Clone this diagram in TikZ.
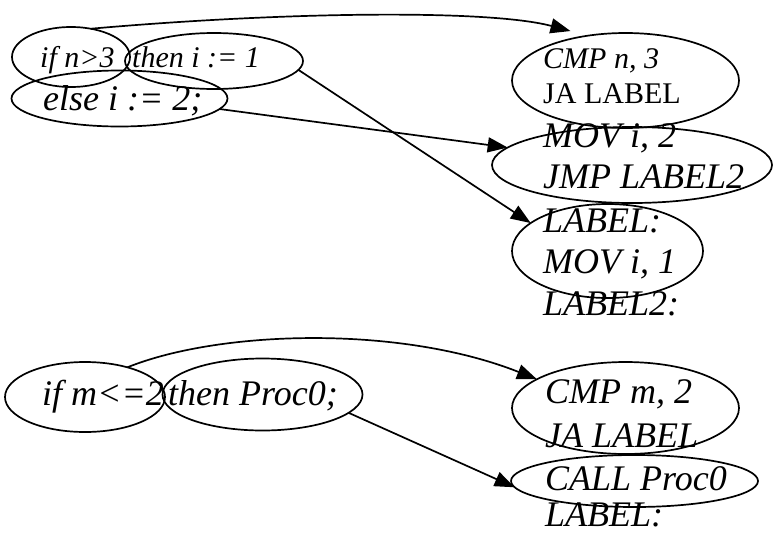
\documentclass[tikz,border=0pt]{standalone}
\usepackage{fontspec}
\setmainfont{Liberation Serif}
\usetikzlibrary{shapes.geometric,arrows.meta}
\begin{document}
\begin{tikzpicture}[x=1pt,y=-1pt,
  ell/.style={draw, ellipse, inner sep=0pt, outer sep=0pt, line width=1.7pt},
  conn/.style={line width=1.7pt, -{Triangle[length=20pt,width=15pt]}},
  txt/.style={anchor=base west, inner sep=0pt, font=\fontsize{36}{40}\selectfont\itshape},
  stxt/.style={anchor=base west, inner sep=0pt, font=\fontsize{30}{32}\selectfont\itshape},
  mtxt/.style={anchor=base west, inner sep=0pt, font=\fontsize{30}{33}\selectfont\itshape},
  utxt/.style={anchor=base west, inner sep=0pt, font=\fontsize{30}{33}\selectfont\upshape},
]
\useasboundingbox (0,0) rectangle (773,533);
% ellipses, upper block
\node[ell, minimum width=118pt, minimum height=60pt] (e1) at (71,57) {};
\node[ell, minimum width=178pt, minimum height=56pt] (e2) at (214,61) {};
\node[ell, minimum width=216pt, minimum height=56pt] (e3) at (119.5,98.5) {};
\node[ell, minimum width=227pt, minimum height=95pt] (r1) at (625.5,80.5) {};
\node[ell, minimum width=280pt, minimum height=76pt] (r2) at (632,165) {};
\node[ell, minimum width=191pt, minimum height=94pt] (r3) at (607.5,251) {};
% ellipses, lower block
\node[ell, minimum width=160pt, minimum height=70pt] (e4) at (85,397) {};
\node[ell, minimum width=200pt, minimum height=72pt] (e5) at (262.5,394.5) {};
\node[ell, minimum width=227pt, minimum height=92pt] (r4) at (625.5,408) {};
\node[ell, minimum width=247pt, minimum height=52pt] (r5) at (634.5,481) {};
% texts, upper block
\node[stxt] (t1) at (40,67) {if n>3};
\node[stxt] (t2) at (132,67) {then i := 1};
\node[txt] (t3) at (43,110) {else i := 2;};
\node[mtxt] (u1) at (543,68) {CMP n, 3};
\node[utxt] (u2) at (543,103) {JA LABEL};
\node[txt] (u3) at (543,147) {MOV i, 2};
\node[txt] (u4) at (543,188) {JMP LABEL2};
\node[txt] (u5) at (543,232) {LABEL:};
\node[txt] (u6) at (543,273) {MOV i, 1};
\node[txt] (u7) at (543,315) {LABEL2:};
% texts, lower block
\node[txt] (t4) at (42,405) {if m<=2};
\node[txt] (t5) at (168,405) {then Proc0;};
\node[txt] (v1) at (545,403) {CMP m, 2};
\node[txt] (v2) at (545,447) {JA LABEL};
\node[txt] (v3) at (545,490) {CALL Proc0};
\node[txt] (v4) at (545,526) {LABEL:};
% connectors
\draw[conn, shorten >=18pt] (e1.55) .. controls (280,12) and (488,9) .. (r1.130);
\draw[conn] (e2.-6) -- (r3.160);
\draw[conn] (e3.-6) -- (r2.172);
\draw[conn] (e4.35) .. controls (220,330) and (400,325) .. (r4.162);
\draw[conn] (e5.-12) -- (r5.183);
\end{tikzpicture}
\end{document}
